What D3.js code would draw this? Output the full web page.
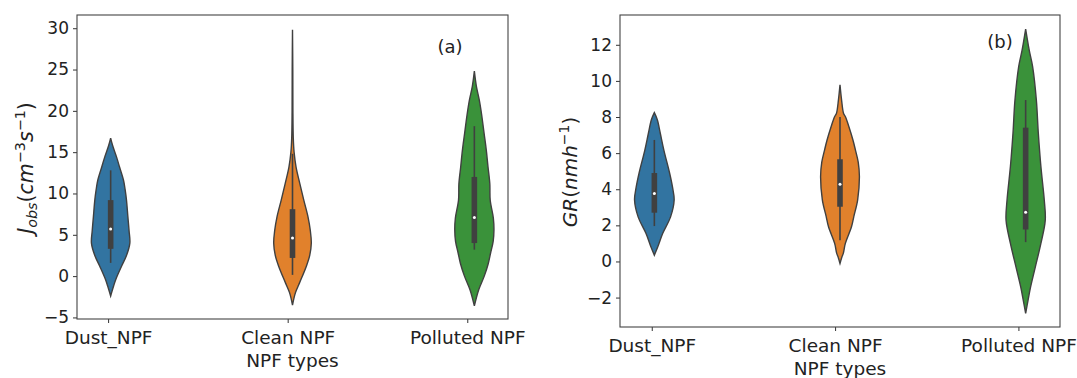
<!DOCTYPE html>
<html>
<head>
<meta charset="utf-8">
<script src="https://cdn.jsdelivr.net/npm/d3@7"></script>
<style>
	body { margin: 0; background: #fff; }
	svg text { font-family: "DejaVu Sans", sans-serif; fill: #222; }
</style>
</head>
<body>
<div id="chart"></div>
<script>
// NPF violin plots, J_obs (a) and GR (b)
///

const categories = ['Dust_NPF', 'Clean NPF', 'Polluted NPF'];
const colors = ['#3274a1', '#e1812c', '#3a923a'];

const jTicks = [-5, 0, 5, 10, 15, 20, 25, 30];
const grTicks = [-2, 0, 2, 4, 6, 8, 10, 12];

// violin outlines: [value, relative half width]
const jDust = [[-2.4,0],[-1.2,0.15],[-0.4,0.26],[1.2,0.55],[2.5,0.8],[4,0.97],[5.5,0.93],[7.2,0.87],[9.2,0.8],[10.5,0.73],[11.6,0.65],[13.2,0.45],[14.4,0.3],[15.8,0.1],[16.7,0]];
const jClean = [[-3.5,0],[-2,0.15],[-0.85,0.35],[1.2,0.7],[2.5,0.87],[4,0.95],[5.5,0.9],[7.2,0.78],[9.2,0.57],[11.2,0.37],[13.2,0.18],[15,0.08],[16.7,0.04],[20,0.02],[25,0.015],[29.8,0]];
const jPolluted = [[-3.6,0],[-1.65,0.22],[0,0.5],[1.5,0.7],[2.8,0.82],[4.2,0.95],[5.6,0.99],[7,0.96],[9.2,0.8],[11.2,0.78],[13.2,0.69],[15.3,0.6],[17.3,0.49],[19.5,0.37],[21.3,0.25],[23,0.1],[24.8,0]];

const grDust = [[0.35,0],[0.8,0.17],[1.55,0.42],[2.47,0.82],[3.4,1.0],[4.1,0.92],[4.9,0.77],[6.17,0.48],[7.1,0.3],[7.85,0.15],[8.24,0]];
const grClean = [[-0.11,0],[0.26,0.1],[0.46,0.17],[1.0,0.27],[1.92,0.58],[2.5,0.7],[3.4,0.89],[4.7,0.98],[5.5,0.92],[6.17,0.78],[6.7,0.66],[7.46,0.45],[8.0,0.28],[8.2,0.18],[8.94,0.08],[9.78,0]];
const grPolluted = [[-2.88,0],[-2.15,0.12],[-1.41,0.25],[-0.3,0.49],[1.0,0.77],[2.29,0.99],[3.4,0.94],[5.25,0.77],[7.1,0.64],[8.94,0.54],[10.8,0.35],[11.7,0.18],[12.87,0]];

// inner box: [whisker low, q1, median, q3, whisker high]
const jBox = [[1.6,3.3,5.7,9.2,12.8],[0.15,2.2,4.6,8.1,14.8],[3.2,4.0,7.1,12.0,18.15]];
const grBox = [[1.96,2.7,3.77,4.9,6.73],[1.18,3.03,4.27,5.66,8.0],[1.07,1.77,2.72,7.41,8.94]];

const W = 1077, H = 378;
const gray = '#404040';

let svg = d3.select('#chart').append('svg')
	.attr('width', W)
	.attr('height', H);

const panels = [
	{ left: 77, right: 508, top: 15, bottom: 319, domain: [-5.19, 31.6], ticks: jTicks,
	  violins: [jDust, jClean, jPolluted], boxes: jBox, tag: '(a)', tagX: 450, tagY: 52.5,
	  labelX: 33, labelY: 168, labelSize: 20.5, label: 'j' },
	{ left: 620, right: 1060, top: 15, bottom: 327, domain: [-3.63, 13.65], ticks: grTicks,
	  violins: [grDust, grClean, grPolluted], boxes: grBox, tag: '(b)', tagX: 1000, tagY: 47.5,
	  labelX: 577, labelY: 172, labelSize: 20, label: 'gr' }
];

function drawPanel(p) {
	let g = svg.append('g');

	// violins sit on one point scale, the tick labels on a slightly shifted one
	let x = d3.scalePoint().domain(categories).range([p.left, p.right]).padding(0.185);
	let xAxis = d3.scalePoint().domain(categories).range([p.left, p.right]).padding(0.2).align(0.433);
	let y = d3.scaleLinear().domain(p.domain).range([p.bottom, p.top]);
	let w = d3.scaleLinear().domain([0, 1]).range([0, 19.8]);

	// violins
	p.violins.forEach(function(v, i) {
		let cx = x(categories[i]);
		let area = d3.area()
			.y(function(d){ return y(d[0]) })
			.x0(function(d){ return cx - w(d[1]) })
			.x1(function(d){ return cx + w(d[1]) })
			.curve(d3.curveCatmullRom);
		g.append('path')
			.attr('d', area(v))
			.attr('fill', colors[i])
			.attr('stroke', gray)
			.attr('stroke-width', 1.4);
	});

	// inner boxes
	p.boxes.forEach(function(b, i) {
		let cx = x(categories[i]);
		g.append('line')
			.attr('x1', cx).attr('x2', cx)
			.attr('y1', y(b[0])).attr('y2', y(b[4]))
			.attr('stroke', gray).attr('stroke-width', 1.6);
		g.append('line')
			.attr('x1', cx).attr('x2', cx)
			.attr('y1', y(b[1])).attr('y2', y(b[3]))
			.attr('stroke', gray).attr('stroke-width', 5.6);
		g.append('circle')
			.attr('cx', cx).attr('cy', y(b[2]))
			.attr('r', 1.5)
			.attr('fill', '#fff');
	});

	// axes
	let ax = g.append('g')
		.attr('transform', 'translate(0,' + p.bottom + ')')
		.call(d3.axisBottom(xAxis).tickSize(4).tickPadding(7));
	ax.selectAll('text').style('font-size', '18.5px').attr('dy', '0.75em');

	let ay = g.append('g')
		.attr('transform', 'translate(' + p.left + ',0)')
		.call(d3.axisLeft(y).tickValues(p.ticks).tickSize(4).tickPadding(4));
	ay.selectAll('text').style('font-size', '17px');

	g.selectAll('.domain').remove();
	g.selectAll('.tick line').attr('stroke', '#333');

	// frame
	g.append('rect')
		.attr('x', p.left).attr('y', p.top)
		.attr('width', p.right - p.left).attr('height', p.bottom - p.top)
		.attr('fill', 'none')
		.attr('stroke', '#444')
		.attr('stroke-width', 1.1);

	// x label
	g.append('text')
		.attr('x', (p.left + p.right) / 2)
		.attr('y', p.bottom + 48)
		.attr('text-anchor', 'middle')
		.style('font-size', '18.5px')
		.text('NPF types');

	// panel tag
	g.append('text')
		.attr('x', p.tagX).attr('y', p.tagY)
		.attr('text-anchor', 'middle')
		.style('font-size', '18px')
		.text(p.tag);

	// y label
	let s = p.labelSize, ss = p.labelSize * 0.7;
	let yl = g.append('text')
		.attr('transform', 'translate(' + p.labelX + ',' + p.labelY + ') rotate(-90)')
		.attr('text-anchor', 'middle')
		.style('font-size', s + 'px');

	if (p.label == 'j') {
		yl.append('tspan').style('font-style', 'italic').text('J');
		yl.append('tspan').style('font-style', 'italic').style('font-size', ss + 'px').attr('dy', 4).text('obs');
		yl.append('tspan').attr('dy', -4).text('(');
		yl.append('tspan').style('font-style', 'italic').text('cm');
		yl.append('tspan').style('font-size', ss + 'px').attr('dy', -8).text('\u22123');
		yl.append('tspan').style('font-style', 'italic').attr('dy', 8).text('s');
		yl.append('tspan').style('font-size', ss + 'px').attr('dy', -8).text('\u22121');
		yl.append('tspan').attr('dy', 8).text(')');
	} else {
		yl.append('tspan').style('font-style', 'italic').text('GR');
		yl.append('tspan').text('(');
		yl.append('tspan').style('font-style', 'italic').text('nmh');
		yl.append('tspan').style('font-size', ss + 'px').attr('dy', -8).text('\u22121');
		yl.append('tspan').attr('dy', 8).text(')');
	}
}

panels.forEach(drawPanel);
</script>
</body>
</html>
